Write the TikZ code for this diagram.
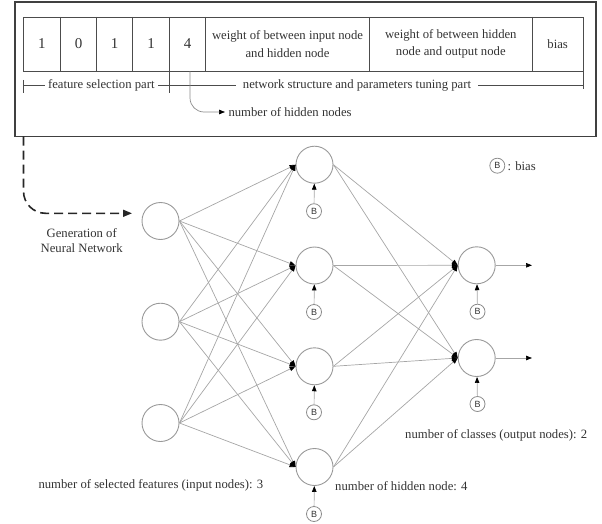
\documentclass[tikz,border=0pt]{standalone}
\usepackage{fontspec}
\setmainfont{Liberation Serif}
\newfontfamily\biasfont{Liberation Sans}
\usetikzlibrary{arrows.meta}

\begin{document}
\begin{tikzpicture}[x=1pt,y=-1pt,
		>={Triangle[length=6pt,width=4.5pt,color=black]},
		every node/.style={font=\fontsize{12.7}{15}\selectfont, text=black!80},
		neuron/.style={circle, draw=black!40, line width=0.9pt, minimum size=37pt, inner sep=0pt},
		biasnode/.style={circle, draw=black!45, line width=0.8pt, minimum size=15pt, inner sep=0pt, font=\biasfont\fontsize{9}{9}\selectfont},
		link/.style={draw=black!35, line width=0.7pt, ->},
		cellline/.style={draw=black!70, line width=0.9pt},
		digit/.style={font=\fontsize{15}{15}\selectfont},
		celltext/.style={align=center, font=\fontsize{12.7}{17.7}\selectfont},
		partlabel/.style={fill=white, inner xsep=3pt, inner ysep=1pt},
		genarrow/.style={draw=black!85, line width=1.6pt, dash pattern=on 9pt off 5pt, -{Triangle[length=9pt,width=7pt]}}]
		\useasboundingbox (0,0) rectangle (602,524);
		% chromosome
		\draw[black!75, line width=1.1pt] (15,2) rectangle (596,136.5);
		\draw[cellline] (23,17) rectangle (583,71);
		\foreach \x in {60.7,96.7,132.7,169.3,205.7,369.3,532.3}
			\draw[cellline] (\x,17) -- (\x,71);
		\node[digit] (bit1) at (41.8,44) {1};
		\node[digit] (bit2) at (78.7,44) {0};
		\node[digit] (bit3) at (114.7,44) {1};
		\node[digit] (bit4) at (151,44) {1};
		\node[digit] (hidcount) at (187.5,44) {4};
		\node[celltext] (wih) at (287.5,44) {weight of between input node\\and hidden node};
		\node[celltext] (who) at (450.8,44) {weight of between hidden\\node and output node};
		\node[celltext] (biascell) at (557.7,44) {bias};
		% parts
		\draw[cellline] (23,80) -- (23,93);
		\draw[cellline] (169.3,71) -- (169.3,93);
		\draw[cellline] (583,71) -- (583,89);
		\draw[cellline] (23,85) -- (583,85);
		\node[partlabel] (featpart) at (101.3,85) {feature selection part};
		\node[partlabel, inner xsep=7pt] (netpart) at (357,85) {network structure and parameters tuning part};
		\coordinate (hookstart) at (190,71.5);
		\node[anchor=west] (hidnodes) at (225,112) {number of hidden nodes};
		\draw[draw=black!45, line width=0.7pt, ->, rounded corners=14pt] (hookstart) |- (hidnodes.west);
		% generation arrow
		\coordinate (genstart) at (23.5,136.5);
		\coordinate (genend) at (132,213.3);
		\draw[genarrow, rounded corners=22pt] (genstart) |- (genend);
		\node[align=center] (genlabel) at (81.7,241) {Generation of\\Neural Network};
		% network
		\node[neuron] (in1) at (160.5,221) {};
		\node[neuron] (in2) at (160.5,321.7) {};
		\node[neuron] (in3) at (160.5,423) {};
		\node[neuron] (h1) at (314.5,164.7) {};
		\node[neuron] (h2) at (314.5,265.5) {};
		\node[neuron] (h3) at (314.5,366.3) {};
		\node[neuron] (h4) at (314.5,467) {};
		\node[neuron] (out1) at (476.7,265.3) {};
		\node[neuron] (out2) at (476.7,358) {};
		\foreach \i in {1,2,3}
			\foreach \j in {1,...,4}
				\draw[link] (in\i.east) -- (h\j.west);
		\foreach \j in {1,...,4}
			\foreach \k in {1,2}
				\draw[link] (h\j.east) -- (out\k.west);
		% bias
		\foreach \j/\y in {1/211.2,2/312,3/412.3,4/514}
		{
			\node[biasnode] (hb\j) at (314,\y) {B};
			\draw[link] (hb\j) -- (h\j);
		}
		\node[biasnode] (ob1) at (477.5,311.7) {B};
		\node[biasnode] (ob2) at (477.5,404) {B};
		\draw[link] (ob1) -- (out1);
		\draw[link] (ob2) -- (out2);
		\coordinate (outend1) at (532,265.3);
		\coordinate (outend2) at (532,358);
		\draw[link] (out1) -- (outend1);
		\draw[link] (out2) -- (outend2);
		\node[biasnode] (legb) at (497.3,165.7) {B};
		\node[anchor=west] (legtext) at (504,165.7) {: bias};
		% counts
		\node[anchor=west] (inlabel) at (35,485.5) {number of selected features (input nodes): 3};
		\node[anchor=west] (hidlabel) at (331.7,486) {number of hidden node: 4};
		\node[anchor=west] (outlabel) at (401.7,435) {number of classes (output nodes): 2};
	\end{tikzpicture}
\end{document}
